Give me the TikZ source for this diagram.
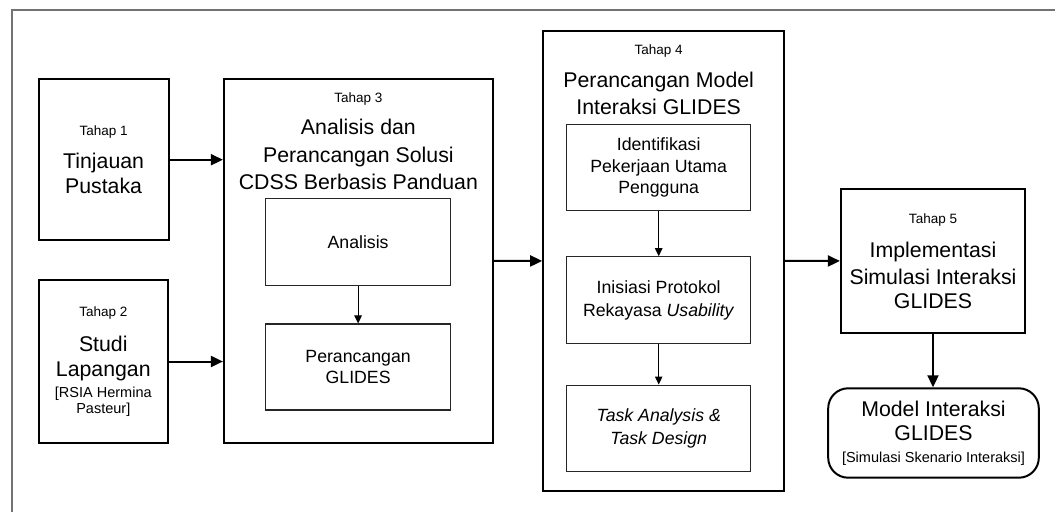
\documentclass[tikz,border=0pt]{standalone}
\usepackage{fontspec}
\setmainfont{Liberation Sans}
\usepackage{tikz}
\usetikzlibrary{arrows.meta}
\newcommand{\tagfont}{\fontsize{13.5}{15}\selectfont}
\newcommand{\bigfont}{\fontsize{21.3}{24.5}\selectfont}
\newcommand{\midfont}{\fontsize{17.7}{21.5}\selectfont}
\newcommand{\notefont}{\fontsize{14.5}{16}\selectfont}
\tikzset{c-stage/.style={rectangle, draw=black, line width=2pt, align=center, inner sep=0pt, font=\bigfont},
c-title/.style={align=center, inner sep=0pt, anchor=north, font=\bigfont},
c-sub/.style={rectangle, draw=black!85, line width=1.1pt, minimum width=184pt, minimum height=86.5pt, align=center, inner sep=0pt, font=\midfont},
arrow/.style={line width=2pt,-{Triangle[length=12pt,width=11pt]}},
sub-arrow/.style={line width=1pt,-{Triangle[length=8pt,width=7.5pt]}}}
\definecolor{c_frame}{rgb}{0.45, 0.45, 0.45}

\begin{document}
\begin{tikzpicture}[x=1pt, y=-1pt]
\useasboundingbox (0,0) rectangle (1055,512);
\draw [c_frame, line width=1.3pt] (12,512) -- (12,10) -- (1055,10);

\node (n1) [c-stage, minimum width=130pt, minimum height=160.7pt] at (103.6,159.7) {
{\tagfont Tahap 1}\\[8.5pt]
Tinjauan\\
Pustaka
};
\node (n2) [c-stage, minimum width=129.5pt, minimum height=163pt] at (103.3,361.5) {
{\tagfont Tahap 2}\\[10.5pt]
Studi\\[1pt]
Lapangan\\[-3.5pt]
{\notefont [RSIA Hermina}\\[-8.5pt]
{\notefont Pasteur]}
};

% tahap 3
\node (n3) [c-stage, minimum width=269pt, minimum height=364pt] at (358.4,261) {};
\node (n3t) [c-title] at (358.4,93) {
{\tagfont Tahap 3}\\[7pt]
Analisis dan\\[4pt]
Perancangan Solusi\\[2pt]
CDSS Berbasis Panduan
};
\node (n3a) [c-sub, minimum width=184.6pt, minimum height=87pt] at (358.1,242.2) {Analisis};
\node (n3b) [c-sub, minimum width=184.6pt, minimum height=86pt] at (358.1,367) {Perancangan\\GLIDES};

% tahap 4
\node (n4) [c-stage, minimum width=240.6pt, minimum height=460.3pt] at (663.5,260.9) {};
\node (n4t) [c-title] at (658.7,45) {
{\tagfont Tahap 4}\\[8.5pt]
Perancangan Model\\[2.5pt]
Interaksi GLIDES
};
\node (n4a) [c-sub] at (658.7,167.5) {Identifikasi\\Pekerjaan Utama\\Pengguna};
\node (n4b) [c-sub] at (658.7,300) {Inisiasi Protokol\\[1.5pt]Rekayasa \textit{Usability}};
\node (n4c) [c-sub] at (658.7,428.3) {\textit{Task Analysis \&}\\[1.5pt]\textit{Task Design}};

% tahap 5
\node (n5) [c-stage, minimum width=184.2pt, minimum height=143.4pt] at (933,261) {
{\tagfont Tahap 5}\\[9.5pt]
Implementasi\\[2.5pt]
Simulasi Interaksi\\
GLIDES
};
\node (n6) [c-stage, rounded corners=20pt, minimum width=210.6pt, minimum height=89.4pt] at (933.5,433) {
Model Interaksi\\
GLIDES\\[-3pt]
{\notefont [Simulasi Skenario Interaksi]}
};

\draw [arrow] (n1.east) -- (n1.east -| n3.west);
\draw [arrow] (n2.east) -- (n2.east -| n3.west);
\draw [arrow] (n3) -- (n4);
\draw [arrow] (n4) -- (n5);
\draw [arrow] (n5) -- (n5 |- n6.north);
\draw [sub-arrow] (n3a) -- (n3b);
\draw [sub-arrow] (n4a) -- (n4b);
\draw [sub-arrow] (n4b) -- (n4c);
\end{tikzpicture}
\end{document}
